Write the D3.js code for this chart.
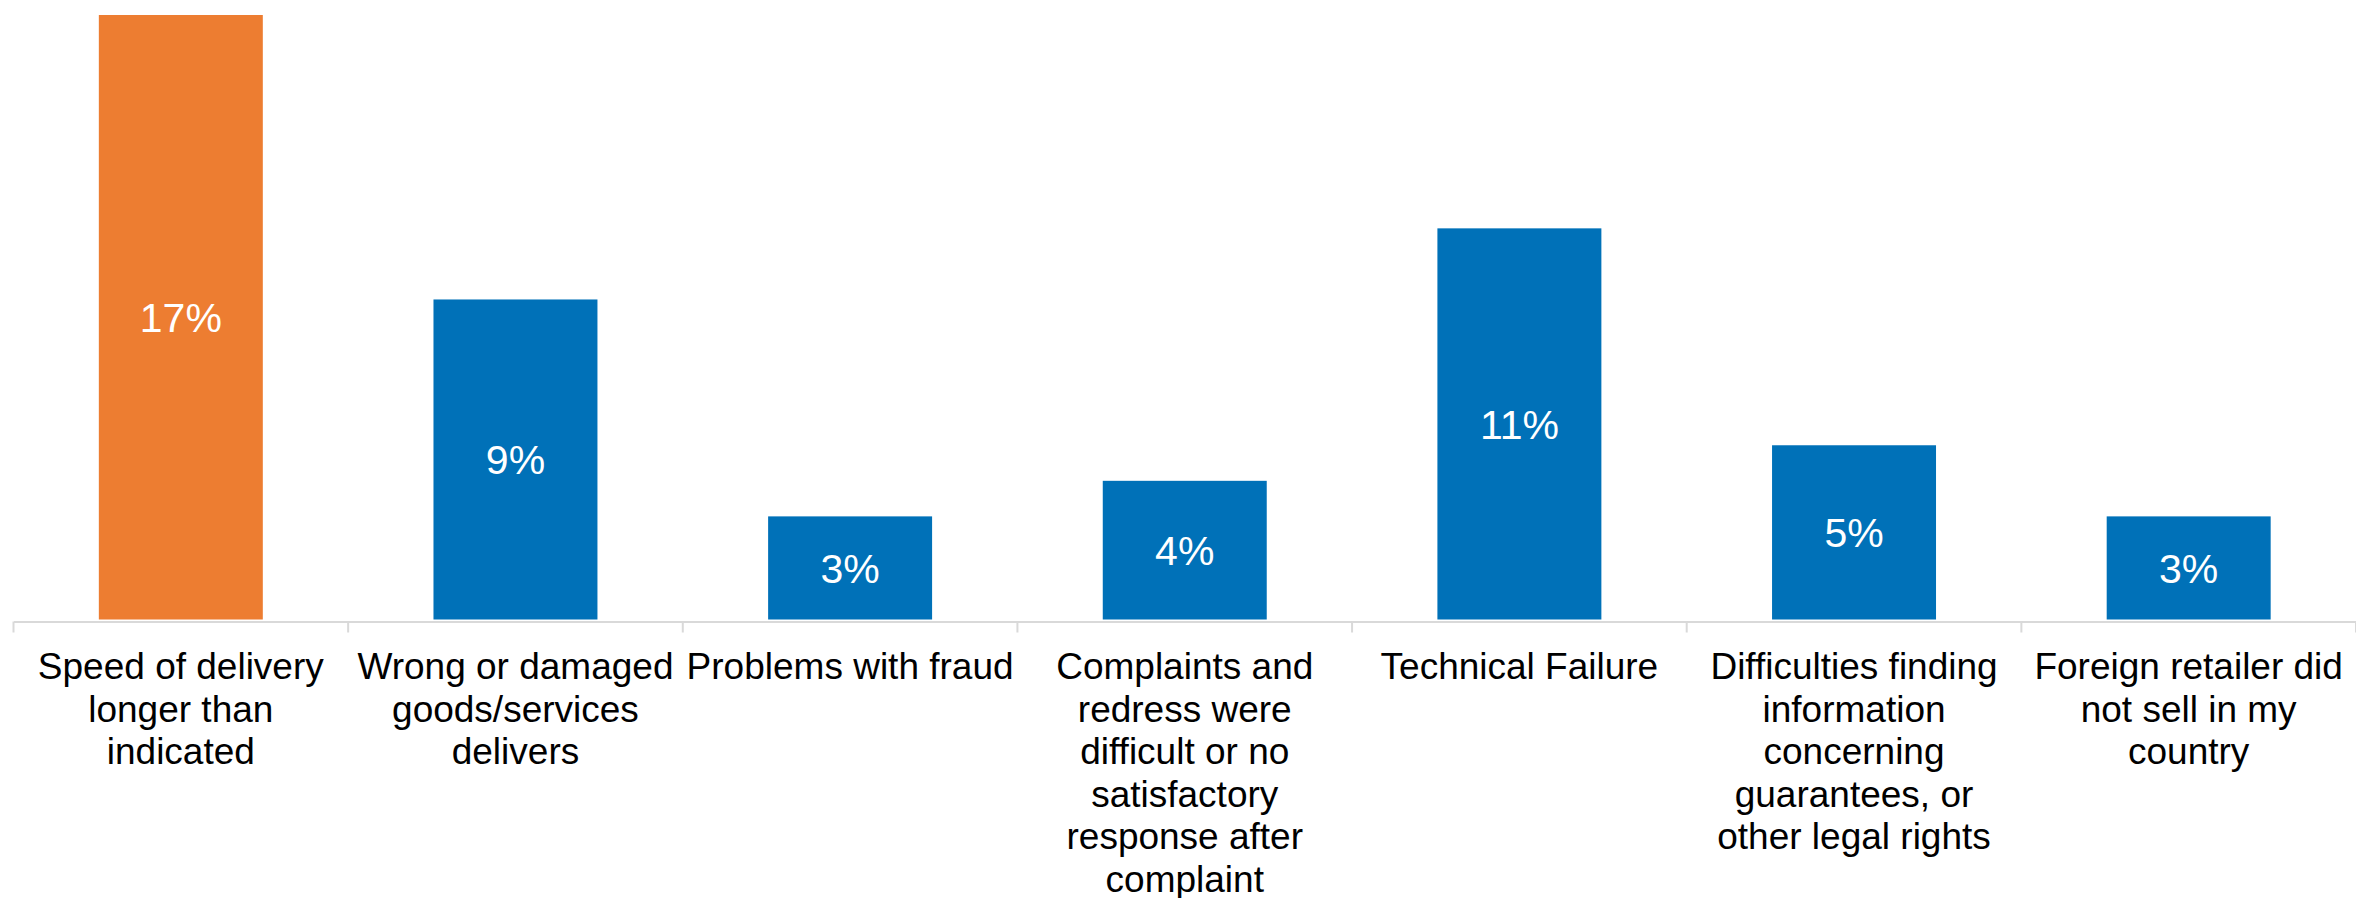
<!DOCTYPE html>
<html>
<head>
<meta charset="utf-8">
<script src="https://cdn.jsdelivr.net/npm/d3@7"></script>
<style>
  html, body { margin: 0; padding: 0; background: #ffffff; }
  svg { display: block; }
</style>
</head>
<body>
<svg id="chart" width="2356" height="898"></svg>
<script>
// ---- data ----
const categories = [
  "Speed of delivery longer than indicated",
  "Wrong or damaged goods/services delivers",
  "Problems with fraud",
  "Complaints and redress were difficult or no satisfactory response after complaint",
  "Technical Failure",
  "Difficulties finding information concerning guarantees, or other legal rights",
  "Foreign retailer did not sell in my country"
];
const categoryLines = [
  ["Speed of delivery", "longer than", "indicated"],
  ["Wrong or damaged", "goods/services", "delivers"],
  ["Problems with fraud"],
  ["Complaints and", "redress were", "difficult or no", "satisfactory", "response after", "complaint"],
  ["Technical Failure"],
  ["Difficulties finding", "information", "concerning", "guarantees, or", "other legal rights"],
  ["Foreign retailer did", "not sell in my", "country"]
];
// percent values (labels shown rounded to whole percent)
const values = [17.0, 9.0, 2.9, 3.9, 11.0, 4.9, 2.9];
const highlighted = ["Speed of delivery longer than indicated"];

// ---- layout ----
const svg = d3.select("#chart");
const plotLeft = 13.5, plotRight = 2356, plotBase = 619.5, plotTop = 15;
const ORANGE = "#ED7D31", BLUE = "#0071B8";

const x = d3.scaleBand()
  .domain(categories)
  .range([plotLeft, plotRight])
  .paddingInner(0.51)
  .paddingOuter(0.255);

const y = d3.scaleLinear()
  .domain([0, d3.max(values)])
  .range([plotBase, plotTop]);

const pct = d3.format(".0%");
const data = categories.map((c, i) => ({ cat: c, value: values[i], lines: categoryLines[i] }));

// bars
svg.append("g").selectAll("rect")
  .data(data)
  .join("rect")
  .attr("x", d => x(d.cat))
  .attr("y", d => y(d.value))
  .attr("width", x.bandwidth())
  .attr("height", d => y(0) - y(d.value))
  .attr("fill", d => highlighted.includes(d.cat) ? ORANGE : BLUE);

// axis
const axisG = svg.append("g").attr("transform", `translate(0,${plotBase + 2})`);
axisG.call(d3.axisBottom(x).tickSize(0).tickFormat(""));
axisG.select(".domain").attr("stroke", "#d9d9d9").attr("stroke-width", 2);
const boundaries = d3.range(categories.length + 1).map(i => plotLeft + i * x.step());
axisG.selectAll("line.bound")
  .data(boundaries)
  .join("line")
  .attr("class", "bound")
  .attr("x1", d => d).attr("x2", d => d)
  .attr("y1", 0).attr("y2", 11)
  .attr("stroke", "#d9d9d9")
  .attr("stroke-width", 2);

// category labels
const lab = svg.append("g").selectAll("text")
  .data(data)
  .join("text")
  .attr("text-anchor", "middle")
  .attr("font-family", "'Liberation Sans', Arial, sans-serif")
  .attr("font-size", 37)
  .attr("fill", "#000");
lab.selectAll("tspan")
  .data(d => d.lines.map(l => ({ l, cx: x(d.cat) + x.bandwidth() / 2 })))
  .join("tspan")
  .attr("x", d => d.cx)
  .attr("y", (d, i) => 679 + i * 42.5)
  .text(d => d.l);

// value labels
svg.append("g").selectAll("text")
  .data(data)
  .join("text")
  .attr("x", d => x(d.cat) + x.bandwidth() / 2)
  .attr("y", d => (y(d.value) + y(0)) / 2)
  .attr("dy", "0.36em")
  .attr("text-anchor", "middle")
  .attr("font-family", "'Liberation Sans', Arial, sans-serif")
  .attr("font-size", 41)
  .attr("fill", "#ffffff")
  .text(d => pct(d.value / 100));
</script>
</body>
</html>
